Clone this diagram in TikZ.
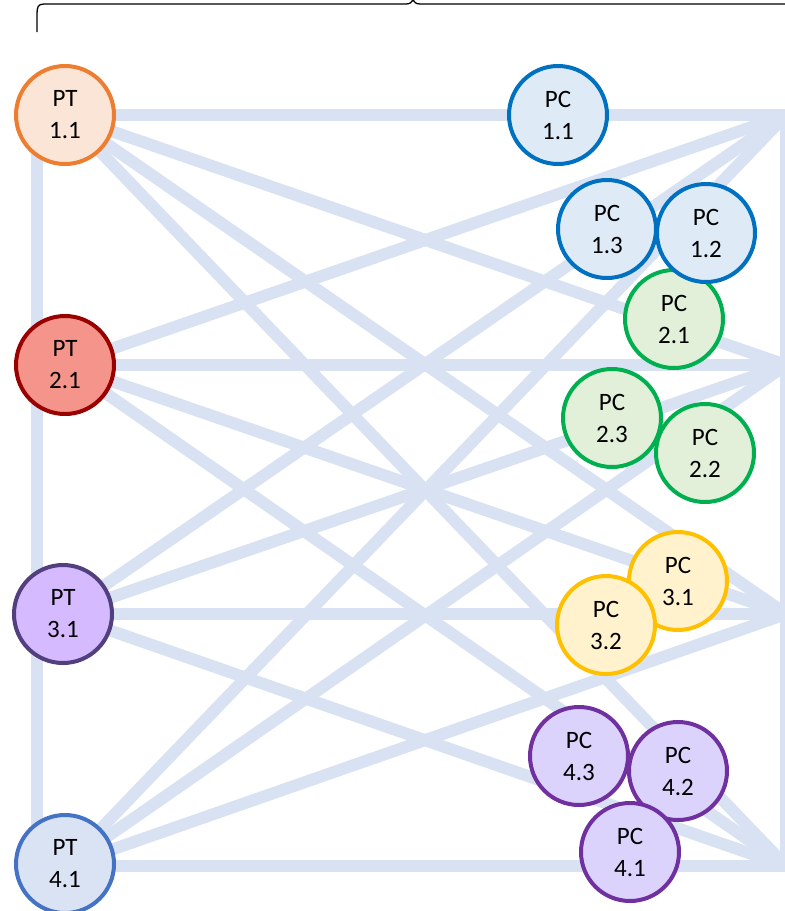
\documentclass[tikz,border=0pt]{standalone}
\usepackage{fontspec}
\setmainfont{Carlito}
\usetikzlibrary{backgrounds}
\definecolor{linkc}{HTML}{D9E2F3}
\definecolor{ptAf}{HTML}{FBE5D6}\definecolor{ptAd}{HTML}{ED7D31}
\definecolor{ptBf}{HTML}{F4948A}\definecolor{ptBd}{HTML}{990000}
\definecolor{ptCf}{HTML}{D6BAFF}\definecolor{ptCd}{HTML}{513F7E}
\definecolor{ptDf}{HTML}{DAE3F3}\definecolor{ptDd}{HTML}{4472C4}
\definecolor{pcAf}{HTML}{DEEBF7}\definecolor{pcAd}{HTML}{0070C0}
\definecolor{pcBf}{HTML}{E2F0D9}\definecolor{pcBd}{HTML}{00B050}
\definecolor{pcCf}{HTML}{FFF2CC}\definecolor{pcCd}{HTML}{FFC000}
\definecolor{pcDf}{HTML}{DBD3FC}\definecolor{pcDd}{HTML}{7030A0}
\begin{document}
\begin{tikzpicture}[x=1pt,y=-1pt,
  link/.style={line width=12pt, draw=linkc},
  ball/.style={circle, minimum size=98pt, inner sep=0pt, line width=4pt, align=center,
    font=\fontsize{25}{32}\selectfont},
  ptA/.style={ball, fill=ptAf, draw=ptAd},
  ptB/.style={ball, fill=ptBf, draw=ptBd},
  ptC/.style={ball, fill=ptCf, draw=ptCd},
  ptD/.style={ball, fill=ptDf, draw=ptDd},
  pcA/.style={ball, fill=pcAf, draw=pcAd},
  pcB/.style={ball, fill=pcBf, draw=pcBd},
  pcC/.style={ball, fill=pcCf, draw=pcCd},
  pcD/.style={ball, fill=pcDf, draw=pcDd},
  bracec/.style={line width=1.3pt, draw=black}]
\useasboundingbox (0,0) rectangle (785,911);

% right convergence points and left rail ends
\coordinate (r1) at (786,115);
\coordinate (r2) at (786,365);
\coordinate (r3) at (786,614);
\coordinate (r4) at (786,866);
\coordinate (v1) at (37,115);
\coordinate (v4) at (37,866);
\coordinate (w1) at (786,109);
\coordinate (w4) at (786,872);

% left nodes
\node[ptA] (pt1) at (65,115) {PT\\1.1};
\node[ptB] (pt2) at (65,365) {PT\\2.1};
\node[ptC] (pt3) at (63,614) {PT\\3.1};
\node[ptD] (pt4) at (65,864) {PT\\4.1};

% right nodes
\node[pcA] (pc11) at (558,115) {PC\\1.1};
\node[pcA] (pc13) at (607,229) {PC\\1.3};
\node[pcB] (pc21) at (674,319) {PC\\2.1};
\node[pcA] (pc12) at (706,233) {PC\\1.2};
\node[pcB] (pc23) at (612,418) {PC\\2.3};
\node[pcB] (pc22) at (705,453) {PC\\2.2};
\node[pcC] (pc31) at (678,581) {PC\\3.1};
\node[pcC] (pc32) at (606,625) {PC\\3.2};
\node[pcD] (pc43) at (579,756) {PC\\4.3};
\node[pcD] (pc42) at (678,771) {PC\\4.2};
\node[pcD] (pc41) at (630,852) {PC\\4.1};

\begin{pgfonlayer}{background}
  \draw[link] (v1) -- (v4);
  \draw[link] (w1) -- (w4);
  \draw[link] (pt1.center) -- (r1);
  \draw[link] (pt1.center) -- (r2);
  \draw[link] (pt1.center) -- (r3);
  \draw[link] (pt1.center) -- (r4);
  \draw[link] (pt2.center) -- (r1);
  \draw[link] (pt2.center) -- (r2);
  \draw[link] (pt2.center) -- (r3);
  \draw[link] (pt2.center) -- (r4);
  \draw[link] (pt3.center) -- (r1);
  \draw[link] (pt3.center) -- (r2);
  \draw[link] (pt3.center) -- (r3);
  \draw[link] (pt3.center) -- (r4);
  \draw[link] ([yshift=-2pt]pt4.center) -- (r1);
  \draw[link] ([yshift=-2pt]pt4.center) -- (r2);
  \draw[link] ([yshift=-2pt]pt4.center) -- (r3);
  \draw[link] ([yshift=-2pt]pt4.center) -- (r4);
\end{pgfonlayer}

% top brace
\draw[bracec] (37,32) -- (37,14) .. controls (37,7) and (38,4) .. (44,4) -- (406,4)
  .. controls (410,4) and (412,2) .. (413,0) .. controls (414,2) and (416,4) .. (420,4) -- (786,4);
\end{tikzpicture}
\end{document}
